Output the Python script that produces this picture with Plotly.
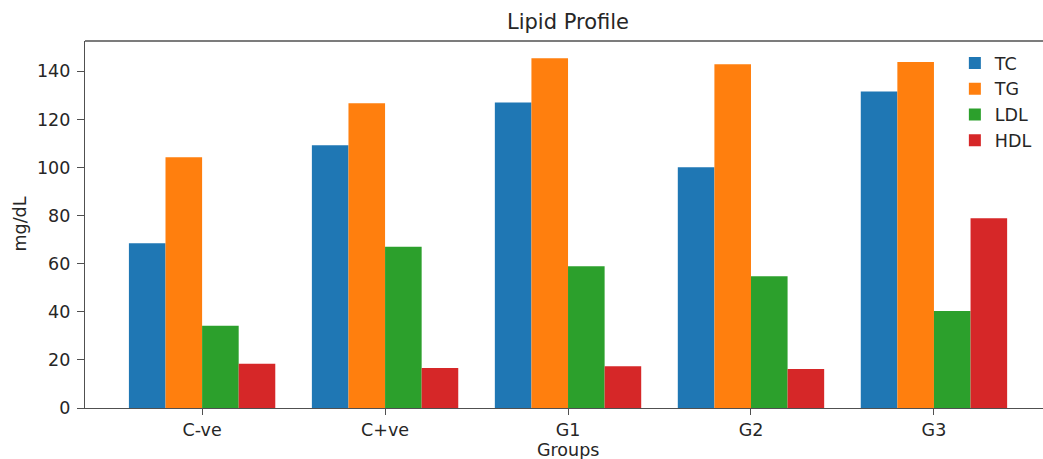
import plotly.graph_objects as go

groups = ["C-ve", "C+ve", "G1", "G2", "G3"]
tc = [68.5, 109.3, 127.0, 100.1, 131.6]
tg = [104.3, 126.7, 145.4, 142.9, 143.9]
ldl = [34.2, 67.0, 58.9, 54.8, 40.3]
hdl = [18.4, 16.6, 17.4, 16.2, 78.9]

series = [("TC", tc, "#1f77b4"), ("TG", tg, "#ff7f0e"),
          ("LDL", ldl, "#2ca02c"), ("HDL", hdl, "#d62728")]

FONT = "DejaVu Sans"
TXT = "#262626"
AX = "#505050"

W, H = 1043, 459
L, T, B = 85, 41, 51
PH = H - T - B
PW = W - L

fig = go.Figure()
for name, vals, col in series:
    fig.add_trace(go.Bar(x=groups, y=vals, name=name,
                         marker=dict(color=col, line=dict(width=0))))

fig.update_layout(
    width=W, height=H,
    margin=dict(l=L, r=0, t=T, b=B, pad=0, autoexpand=False),
    paper_bgcolor="white", plot_bgcolor="white",
    barmode="group", bargap=0.2, bargroupgap=0,
    font=dict(family=FONT, size=17.5, color=TXT),
    title=dict(text="Lipid Profile", x=568 / W, xanchor="center",
               y=1 - 22 / H, yanchor="middle", font=dict(size=21, color=TXT)),
    showlegend=True,
    legend=dict(x=0.908, xanchor="left", y=1 - 4 / PH, yanchor="top",
                bgcolor="rgba(0,0,0,0)", borderwidth=0,
                font=dict(size=17.5, color=TXT), tracegroupgap=0),
    xaxis=dict(type="category", range=[-0.64, 4.596], showline=True, linecolor=AX,
               linewidth=1.4, mirror=False, ticks="outside", ticklen=6, tickcolor=AX,
               tickwidth=1.4, showgrid=False, zeroline=False, automargin=False),
    yaxis=dict(range=[0, 152.6], dtick=20, showline=True, linecolor=AX, linewidth=1.4,
               mirror=False, ticks="outside", ticklen=7, tickcolor=AX, tickwidth=1.4,
               ticklabelstandoff=3, showgrid=False, zeroline=False, automargin=False),
    shapes=[dict(type="line", xref="paper", yref="paper", x0=0, x1=1.01, y0=1, y1=1,
                 line=dict(color=AX, width=1.4))],
    annotations=[
        dict(text="Groups", xref="paper", yref="paper", x=(568 - L) / PW,
             y=-41.5 / PH, xanchor="center", yanchor="middle", showarrow=False,
             font=dict(size=17.5, color=TXT)),
        dict(text="mg/dL", xref="paper", yref="paper", x=-(L - 19) / PW,
             y=0.5, xanchor="center", yanchor="middle", textangle=-90, showarrow=False,
             font=dict(size=17.5, color=TXT)),
    ],
)

fig.write_html(
    "out.html",
    config={"displayModeBar": False},
    post_script="document.body.style.margin='0';"
                "document.body.style.overflow='hidden';"
                "document.documentElement.style.overflow='hidden';",
)
